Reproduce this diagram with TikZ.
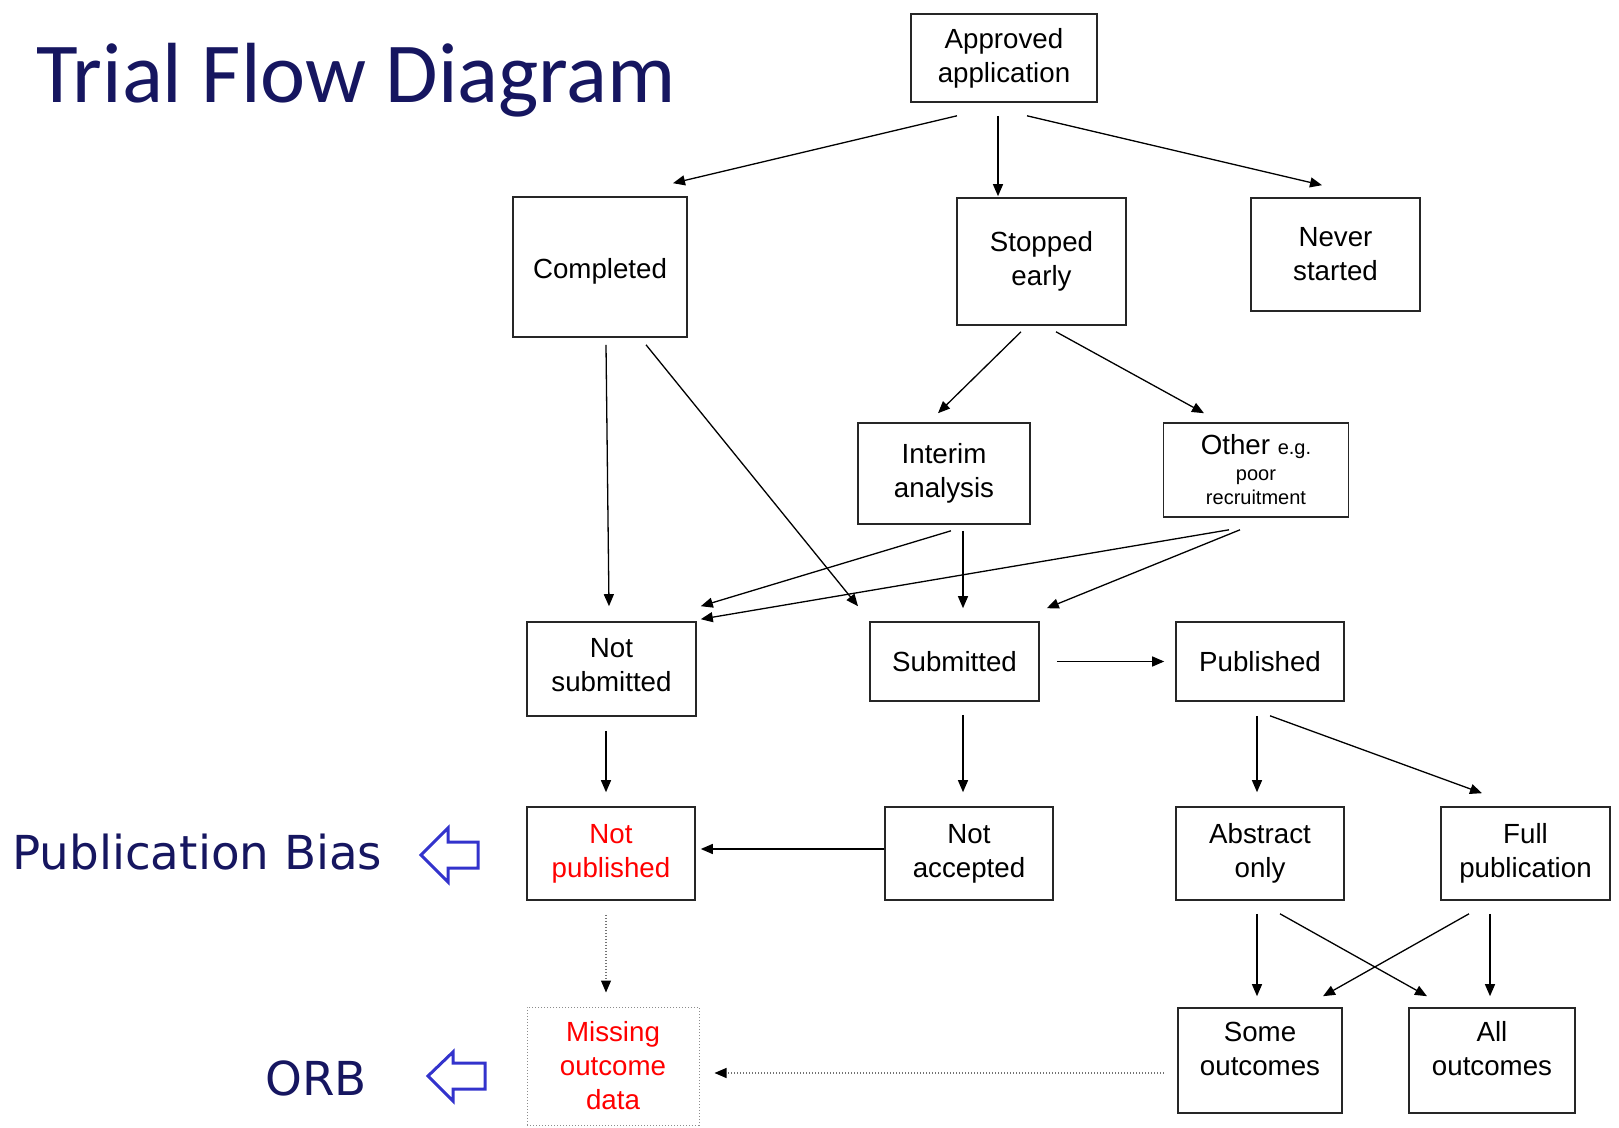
\documentclass[tikz,border=0pt]{standalone}
\usepackage{fontspec}
\setmainfont{Liberation Sans}
\newfontfamily\titlefont{Carlito}
\newfontfamily\biasfont{DejaVu Sans}
\usetikzlibrary{arrows.meta,calc}
\definecolor{navy}{RGB}{22,22,96}
\definecolor{hollowblue}{RGB}{51,51,204}
\begin{document}
\begin{tikzpicture}[x=.5pt,y=-.5pt,
  box/.style={draw=black!85,line width=.8pt,align=center,inner sep=0pt,font=\fontsize{13.85}{17}\selectfont},
  arr/.style={line width=.65pt,-{Triangle[length=6pt,width=5pt]}},
  dotarr/.style={draw=black!55,line width=.55pt,dash pattern=on .6pt off .9pt,-{Triangle[length=6pt,width=5pt,color=black]}},
  side/.style={anchor=base west,inner sep=0pt,text=navy,font=\biasfont\fontsize{23.4}{27}\selectfont}]
  \useasboundingbox (0,0) rectangle (1619,1128);
  \node[anchor=base west,inner sep=0pt,text=navy,font=\titlefont\fontsize{42.7}{50}\selectfont] (title) at (36,103) {Trial Flow Diagram};
  \node[side] (pb) at (12,870) {Publication Bias}; \node[side] (orb) at (265,1095) {ORB};
  \draw[hollowblue,line width=1.5pt,line join=miter] (421,855)--(448,828)--(448,842)--(478,842)--(478,868)--(448,868)--(448,882)--cycle;
  \draw[hollowblue,line width=1.5pt,line join=miter] (428,1076)--(453,1052)--(453,1063)--(485,1063)--(485,1089)--(453,1089)--(453,1101)--cycle;
  \node[box,minimum width=93pt,minimum height=44pt] (app) at (1004,58) {Approved\\application};
  \node[box,minimum width=87pt,minimum height=70pt,text height=14pt] (comp) at (600,267) {Completed};
  \node[box,minimum width=84.5pt,minimum height=63.5pt] (stop) at (1041.5,261.5) {Stopped\\early};
  \node[box,minimum width=84.5pt,minimum height=56.5pt] (never) at (1335.5,254.5) {Never\\started};
  \node[box,minimum width=86pt,minimum height=50.5pt] (interim) at (944,473.5) {Interim\\analysis};
  \node[box,minimum width=92.5pt,minimum height=47pt] (other) at (1256,470) {Other {\fontsize{10}{12}\selectfont e.g.}\\[-4pt]{\fontsize{10}{12}\selectfont poor}\\[-5pt]{\fontsize{10}{12}\selectfont recruitment}};
  \node[box,minimum width=84.5pt,minimum height=47pt,text depth=4pt] (notsub) at (611.5,669) {Not\\submitted};
  \node[box,minimum width=84.5pt,minimum height=39.5pt] (sub) at (954.5,661.5) {Submitted};
  \node[box,minimum width=84pt,minimum height=39.5pt] (pub) at (1260,661.5) {Published};
  \node[box,minimum width=84pt,minimum height=46.5pt,text=red] (notpub) at (611,853.5) {Not\\published};
  \node[box,minimum width=84pt,minimum height=46.5pt] (notacc) at (969,853.5) {Not\\accepted};
  \node[box,minimum width=84pt,minimum height=46.5pt] (abs) at (1260,853.5) {Abstract\\only};
  \node[box,minimum width=84.5pt,minimum height=46.5pt] (full) at (1525.5,853.5) {Full\\publication};
  \node[box,draw=black!45,line width=.5pt,dash pattern=on .6pt off .9pt,minimum width=86pt,minimum height=59pt,text=red] (miss) at (613,1066) {Missing\\outcome\\data};
  \node[box,minimum width=82pt,minimum height=52.5pt,text depth=12pt] (some) at (1260,1060.5) {Some\\outcomes};
  \node[box,minimum width=83pt,minimum height=52.5pt,text depth=12pt] (all) at (1492,1060.5) {All\\outcomes};
  \draw[arr] ($(app.south)+(-47,13)$) -- ($(comp.north)+(73,-13)$);
  \draw[arr] ($(app.south)+(-6,13)$) -- ($(stop.north)+(-43.5,-1)$);
  \draw[arr] ($(app.south)+(23,13)$) -- ($(never.north)+(-13.5,-12)$);
  \draw[arr] ($(comp.south)+(6,7)$) -- ($(notsub.north)+(-2.5,-15)$);
  \draw[arr] ($(comp.south)+(46,7)$) -- ($(sub.north)+(-96.5,-15)$);
  \draw[arr] ($(stop.south)+(-20.5,6)$) -- ($(interim.north)+(-6,-9)$);
  \draw[arr] ($(stop.south)+(14.5,6)$) -- ($(other.north)+(-52,-9)$);
  \draw[arr] ($(interim.south)+(7,6)$) -- ($(notsub.north east)+(4,-15)$);
  \draw[arr] ($(interim.south)+(19,6)$) -- ($(sub.north)+(8.5,-13)$);
  \draw[arr] ($(other.south)+(-27,12)$) -- ($(notsub.north east)+(4,-2)$);
  \draw[arr] ($(other.south)+(-16,12)$) -- ($(sub.north east)+(7,-13)$);
  \draw[arr] ($(sub.east)+(17,0)$) -- ($(pub.west)+(-11,0)$);
  \draw[arr] ($(notsub.south)+(-5.5,14)$) -- ($(notpub.north)+(-5,-14)$);
  \draw[arr] ($(sub.south)+(8.5,13)$) -- ($(notacc.north)+(-6,-14)$);
  \draw[arr] ($(notacc.west)+(0,-4.5)$) -- ($(notpub.east)+(5,-4.5)$);
  \draw[arr] ($(pub.south)+(-3,14)$) -- ($(abs.north)+(-3,-14)$);
  \draw[arr] ($(pub.south)+(10,14)$) -- ($(full.north)+(-43.5,-13)$);
  \draw[arr] ($(abs.south)+(-3,13)$) -- ($(some.north)+(-3,-11)$);
  \draw[arr] ($(abs.south)+(20,13)$) -- ($(all.north)+(-65,-11)$);
  \draw[arr] ($(full.south)+(-56.5,13)$) -- ($(some.north)+(63,-11)$);
  \draw[arr] ($(full.south)+(-35.5,13)$) -- ($(all.north)+(-2,-11)$);
  \draw[dotarr] ($(notpub.south)+(-5,14)$) -- ($(miss.north)+(-7,-14)$);
  \draw[dotarr] ($(some.west)+(-13,12.5)$) -- ($(miss.east)+(15,7)$);
\end{tikzpicture}
\end{document}
